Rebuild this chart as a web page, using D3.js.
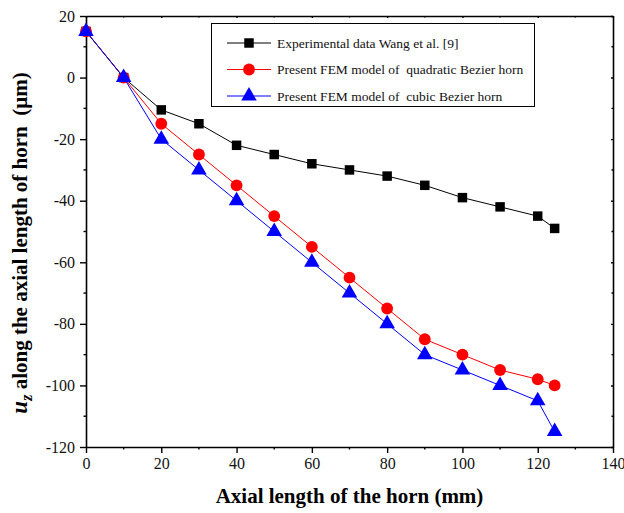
<!DOCTYPE html>
<head>
  <meta charset="utf-8">
  <script src="https://d3js.org/d3.v7.min.js"></script>
  <style>
    body { margin:0; background:white; }
    svg { font-family: "Liberation Serif", "Times New Roman", serif; }
    text { white-space: pre; }
  </style>
</head>
<body>
  <script>
    // data
    var xs = [0, 10, 20, 30, 40, 50, 60, 70, 80, 90, 100, 110, 120, 124.5];
    var experimental = [15, 0, -10.5, -15, -22, -25, -28, -30, -32, -35, -39, -42, -45, -49];
    var quadratic = [15, 0, -15, -25, -35, -45, -55, -65, -75, -85, -90, -95, -98, -100];
    var cubic = [15, 0, -20, -30, -40, -50, -60, -70, -80, -90, -95, -100, -105, -115];
    var xTicks = [0, 20, 40, 60, 80, 100, 120, 140];
    var yTicks = [20, 0, -20, -40, -60, -80, -100, -120];
    var labels = ["Experimental data Wang et al. [9]",
                  "Present FEM model of  quadratic Bezier horn",
                  "Present FEM model of  cubic Bezier horn"];

    var width = 624, height = 513;
    var m = {left: 86, right: 11, top: 16, bottom: 66};

    var svg = d3.select("body").append("svg")
        .attr("width", width).attr("height", height);

    var x = d3.scaleLinear().domain([0, 140]).range([m.left, width - m.right]);
    var y = d3.scaleLinear().domain([-120, 20]).range([height - m.bottom, m.top]);

    // minor ticks
    var g = svg.append("g");
    d3.range(10, 140, 20).forEach(function (v) {
      g.append("line").attr("x1", x(v)).attr("x2", x(v))
        .attr("y1", y(-120)).attr("y2", y(-120) + 2.5).attr("stroke", "black").attr("stroke-width", 1.4);
      g.append("line").attr("x1", x(v)).attr("x2", x(v))
        .attr("y1", y(20)).attr("y2", y(20) + 1.5).attr("stroke", "black").attr("stroke-width", 1.4);
    });
    d3.range(-110, 20, 20).forEach(function (v) {
      g.append("line").attr("x1", x(0) - 2.5).attr("x2", x(0))
        .attr("y1", y(v)).attr("y2", y(v)).attr("stroke", "black").attr("stroke-width", 1.4);
      g.append("line").attr("x1", x(140) - 1.5).attr("x2", x(140))
        .attr("y1", y(v)).attr("y2", y(v)).attr("stroke", "black").attr("stroke-width", 1.4);
    });

    var fmt = function (d) { return String(d); };
    svg.append("g")
        .attr("transform", "translate(0," + y(-120) + ")")
        .call(d3.axisBottom(x).tickValues(xTicks).tickSize(6).tickSizeOuter(0).tickPadding(5).tickFormat(fmt));
    svg.append("g")
        .attr("transform", "translate(" + x(0) + ",0)")
        .call(d3.axisLeft(y).tickValues(yTicks).tickSize(6).tickSizeOuter(0).tickFormat(fmt).tickPadding(5));
    svg.append("g")
        .attr("transform", "translate(0," + y(20) + ")")
        .call(d3.axisTop(x).tickValues(xTicks).tickSize(-2).tickSizeOuter(0).tickFormat(""));
    svg.append("g")
        .attr("transform", "translate(" + x(140) + ",0)")
        .call(d3.axisRight(y).tickValues(yTicks).tickSize(-2).tickSizeOuter(0).tickFormat(""));

    svg.selectAll(".tick text")
        .style("font-family", "'Liberation Serif', serif")
        .style("font-size", "16px")
        .attr("fill", "#111");
    svg.selectAll(".domain").attr("stroke-width", 1.6);
    svg.selectAll(".tick line").attr("stroke-width", 1.4);

    var line = d3.line().x(function (d) { return x(d[0]); }).y(function (d) { return y(d[1]); });
    var series = [
      {vals: experimental, color: "black", shape: d3.symbolSquare, size: 90},
      {vals: quadratic, color: "red", shape: d3.symbolCircle, size: 110},
      {vals: cubic, color: "blue", shape: d3.symbolTriangle, size: 105}
    ];

    series.forEach(function (s) {
      var pts = xs.map(function (v, i) { return [v, s.vals[i]]; });
      svg.append("path").datum(pts).attr("d", line)
        .attr("fill", "none").attr("stroke", s.color).attr("stroke-width", 1);
      svg.selectAll(null).data(pts).enter().append("path")
        .attr("d", d3.symbol().type(s.shape).size(s.size))
        .attr("transform", function (d) { return "translate(" + x(d[0]) + "," + y(d[1]) + ")"; })
        .attr("fill", s.color);
    });

    // legend
    var lg = svg.append("g");
    lg.append("rect").attr("x", 211.5).attr("y", 23.5).attr("width", 323).attr("height", 83)
      .attr("fill", "white").attr("stroke", "black").attr("stroke-width", 1);
    series.forEach(function (s, i) {
      var ly = 43 + i * 26.5;
      lg.append("line").attr("x1", 227).attr("x2", 271).attr("y1", ly).attr("y2", ly)
        .attr("stroke", s.color).attr("stroke-width", 1);
      lg.append("path").attr("d", d3.symbol().type(s.shape).size(s.size))
        .attr("transform", "translate(249," + ly + ")").attr("fill", s.color);
      lg.append("text").attr("x", 277).attr("y", ly + 4.5).attr("font-size", 13.5)
        .attr("fill", "#111").text(labels[i]);
    });

    // axis titles
    svg.append("text").attr("x", (x(0) + x(140)) / 2).attr("y", 503)
      .attr("text-anchor", "middle").attr("font-size", 21).attr("font-weight", "bold")
      .text("Axial length of the horn (mm)");

    var yt = svg.append("text").attr("transform", "translate(27," + 243 + ") rotate(-90)")
      .attr("text-anchor", "middle").attr("font-size", 21).attr("font-weight", "bold");
    yt.append("tspan").attr("font-style", "italic").attr("font-size", 23).text("u");
    yt.append("tspan").attr("font-style", "italic").attr("font-size", 16).attr("dy", 5).text("z");
    yt.append("tspan").attr("dy", -5).text(" along the axial length of horn  (\u03bcm)");
  </script>
</body>
